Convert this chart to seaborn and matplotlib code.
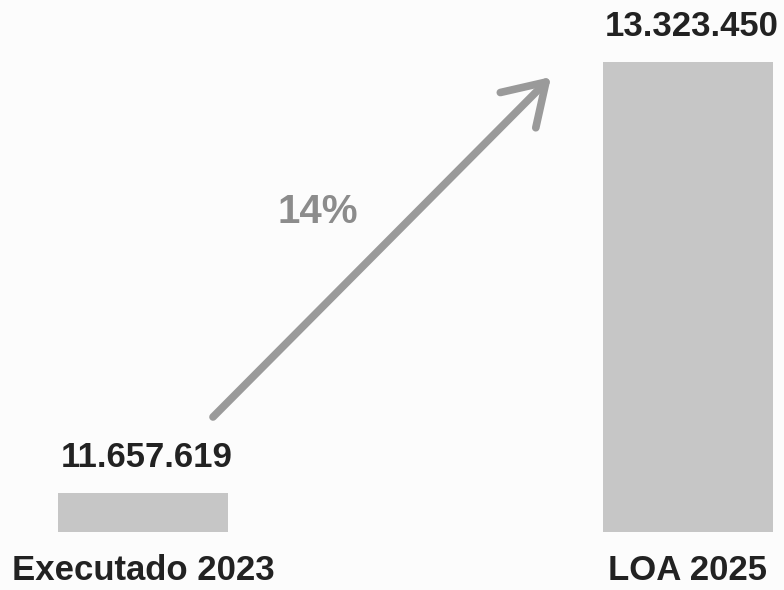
import matplotlib
matplotlib.use("Agg")
import matplotlib.pyplot as plt
import seaborn as sns
import pandas as pd

categories = ["Executado 2023", "LOA 2025"]
values = [11657619, 13323450]
value_labels = ["11.657.619", "13.323.450"]
growth_label = "14%"

sns.set_theme(style="white")
plt.rcParams["font.family"] = ["Liberation Sans", "DejaVu Sans"]

W, H = 784, 590
fig = plt.figure(figsize=(W / 100, H / 100), dpi=100)
fig.patch.set_facecolor("#fcfcfc")
ax = fig.add_axes([0, (H - 532) / H, 1, 532 / H])
ax.set_facecolor("#fcfcfc")

df = pd.DataFrame({"cat": categories, "val": values})
sns.barplot(data=df, x="cat", y="val", color="#c6c6c6", saturation=1,
            width=0.312, ax=ax, edgecolor="none")

# axis scaling: bar centres at 143px and 688px
px = 545.0
ax.set_xlim(-143 / px, 1 + (W - 688) / px)
base = 11506883
per_px = (values[1] - base) / 470.0
ax.set_ylim(base, values[1] + 62 * per_px)

for s in ax.spines.values():
    s.set_visible(False)
ax.set_yticks([])
ax.set_xlabel("")
ax.set_ylabel("")
ax.tick_params(axis="x", length=0, pad=16)
ax.set_xticks(range(len(categories)))
ax.set_xticklabels(categories, fontsize=25, fontweight="bold", color="#222222")

for i, (v, lab) in enumerate(zip(values, value_labels)):
    ax.annotate(lab, xy=(i + 0.006, v), xytext=(0, 14), textcoords="offset points",
                ha="center", va="bottom", fontsize=25, fontweight="bold",
                color="#222222")

# growth arrow
ax.annotate("", xy=((551 - 143) / px, base + (532 - 77) * per_px),
            xytext=((213 - 143) / px, base + (532 - 417) * per_px),
            arrowprops=dict(arrowstyle="->,head_length=0.95,head_width=0.6",
                        color="#9a9a9a", lw=5.5, mutation_scale=30,
                        shrinkA=0, shrinkB=0, capstyle="round",
                        joinstyle="round"))
ax.text((318 - 143) / px, base + (532 - 212) * per_px, growth_label,
        ha="center", va="center", fontsize=29, fontweight="bold",
        color="#8c8c8c")

fig.savefig("out.png", dpi=100, facecolor=fig.get_facecolor())
